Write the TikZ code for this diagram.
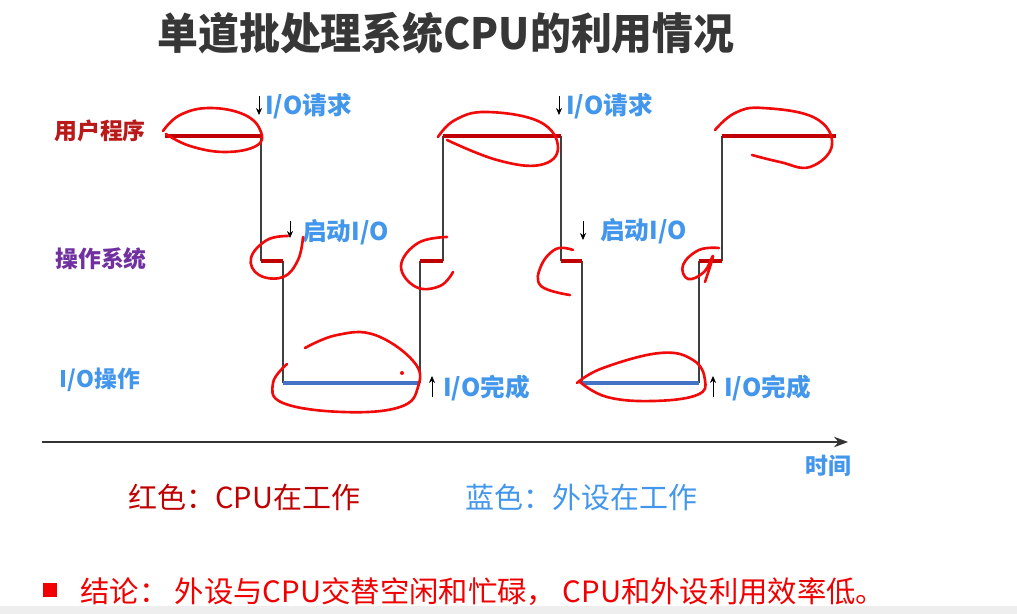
\documentclass[tikz,border=0pt]{standalone}
\usepackage{fontspec}
\setmainfont{Noto Sans CJK SC}
\usepackage{graphicx}
\usepackage{tikz}
\usetikzlibrary{arrows.meta}
\definecolor{TitleGray}{RGB}{55,55,55}
\definecolor{UserRed}  {RGB}{185,25,25}
\definecolor{OsPurple} {RGB}{112,48,160}
\definecolor{LblBlue}  {RGB}{66,150,235}
\definecolor{SegRed}   {RGB}{192,0,0}
\definecolor{SegBlue}  {RGB}{68,114,196}
\definecolor{InkRed}   {RGB}{240,10,10}
\definecolor{NoteRed}  {RGB}{240,0,0}
\definecolor{BandGray} {RGB}{238,238,238}
\tikzset{
  lvl/.style={font=\bfseries\fontsize{13}{15}\selectfont,inner sep=0pt},
  evt/.style={font=\bfseries\fontsize{14}{16}\selectfont,text=LblBlue,anchor=west,inner sep=0pt},
  legend/.style={font=\fontsize{16.5}{19}\selectfont,anchor=west,inner sep=0pt},
  trace/.style={draw=black!75,line width=0.6pt},
  cpuseg/.style={draw=SegRed,line width=2.3pt},
  ioseg/.style={draw=SegBlue,line width=2.3pt},
  tick/.style={-{Stealth[length=4pt,width=3.5pt]},line width=0.5pt},
  scrib/.style={draw=InkRed,line width=1.5pt,line cap=round,line join=round},
}

\begin{document}
\begin{tikzpicture}[x=0.02cm,y=-0.02cm]
\useasboundingbox (0,0) rectangle (1017,614);
\fill[BandGray] (0,606) rectangle (1017,614);
\def\yU{136}\def\yO{261}\def\yI{383}
% title
\node[font=\bfseries\fontsize{24.5}{28}\selectfont,text=TitleGray,inner sep=0pt] at (446,33)(title){\scalebox{0.95}[1]{单道批处理系统CPU的利用情况}};
% levels
\node[lvl,text=UserRed]  at (100,131)(usr){用户程序};
\node[lvl,text=OsPurple] at (101,259)(os){操作系统};
\node[lvl,text=LblBlue]  at (100,380)(io){I/O操作};
% corners
\foreach \n/\x in {a/165,b/261,c/283,d/420,e/443,f/561,g/582,h/699,i/722,j/836}{
  \coordinate (U\n) at (\x,\yU);
  \coordinate (O\n) at (\x,\yO);
  \coordinate (I\n) at (\x,\yI);
}
\draw[trace](Ub)--(Ob) (Oc)--(Ic) (Id)--(Od) (Oe)--(Ue);
\draw[trace](Uf)--(Of) (Og)--(Ig) (Ih)--(Oh) (Oi)--(Ui);
\draw[cpuseg](Ua)--(Ub) (Ob)--(Oc) (Od)--(Oe) (Ue)--(Uf) (Of)--(Og) (Oh)--(Oi) (Ui)--(Uj);
\draw[ioseg](Ic)--(Id) (Ig)--(Ih);
% events
\node[evt] at (265,106)(req1){I/O请求};
\node[evt] at (566,106)(req2){I/O请求};
\node[evt] at (302,232)(go1){启动I/O};
\node[evt] at (600,231)(go2){启动I/O};
\node[evt] at (443,388)(done1){I/O完成};
\node[evt] at (724,388)(done2){I/O完成};
\coordinate (r1a) at (259,96);  \coordinate (r1b) at (259,115);
\coordinate (r2a) at (559,96);  \coordinate (r2b) at (559,115);
\coordinate (g1a) at (290,221); \coordinate (g1b) at (290,238);
\coordinate (g2a) at (583,221); \coordinate (g2b) at (583,240);
\coordinate (d1a) at (432,397); \coordinate (d1b) at (432,376);
\coordinate (d2a) at (713,397); \coordinate (d2b) at (713,376);
\foreach \p in {r1,r2,g1,g2,d1,d2}{\draw[tick](\p a)--(\p b);}
% time axis
\coordinate (t0) at (42,442);
\coordinate (t1) at (848,442);
\draw[-{Stealth[length=8pt,width=6pt]},line width=0.6pt,black!80](t0)--(t1);
\node[lvl,text=LblBlue] at (828,466)(time){时间};
% legend
\node[legend,text=SegRed]  at (128,497)(lgr){红色：CPU在工作};
\node[legend,text=LblBlue] at (465,497)(lgb){蓝色：外设在工作};
% conclusion
\fill[NoteRed] (43,583) rectangle (57,597);
\node[font=\fontsize{16.7}{20}\selectfont,text=NoteRed,anchor=west,inner sep=0pt] at (80,592)(note){结论：\ 外设与CPU交替空闲和忙碌，\ CPU和外设利用效率低。};
% red ink
\draw[scrib] plot[smooth,tension=0.7] coordinates {(163,131) (180,115) (210,108) (245,115) (261,132) (256,146) (225,152) (190,146) (166,134)};
\draw[scrib] plot[smooth,tension=0.7] coordinates {(288,236) (267,240) (251,258) (259,275) (283,277) (298,260) (303,237)};
\draw[scrib] plot[smooth,tension=0.7] coordinates {(447,237) (418,243) (401,266) (416,287) (440,286) (453,272)};
\draw[scrib] plot[smooth,tension=0.7] coordinates {(573,250) (556,249) (541,266) (541,286) (570,295)};
\draw[scrib] plot[smooth,tension=0.7] coordinates {(719,248) (699,250) (683,265) (688,279) (704,272) (713,256) (705,282)};
\draw[scrib] plot[smooth,tension=0.7] coordinates {(438,137) (455,120) (487,112) (540,122) (558,148) (540,165) (497,160) (447,140)};
\draw[scrib] plot[smooth,tension=0.7] coordinates {(715,130) (735,113) (763,108) (815,118) (832,145) (810,167) (780,162) (752,155)};
\draw[scrib] plot[smooth,tension=0.7] coordinates {(287,364) (273,383) (283,403) (343,412) (400,407) (418,387) (414,362) (375,335) (337,335) (305,348)};
\fill[InkRed] (402,373) circle (2);
\draw[scrib] plot[smooth,tension=0.7] coordinates {(577,383) (603,368) (660,353) (693,360) (705,380) (697,395) (653,401) (607,397) (580,382)};
\end{tikzpicture}
\end{document}
